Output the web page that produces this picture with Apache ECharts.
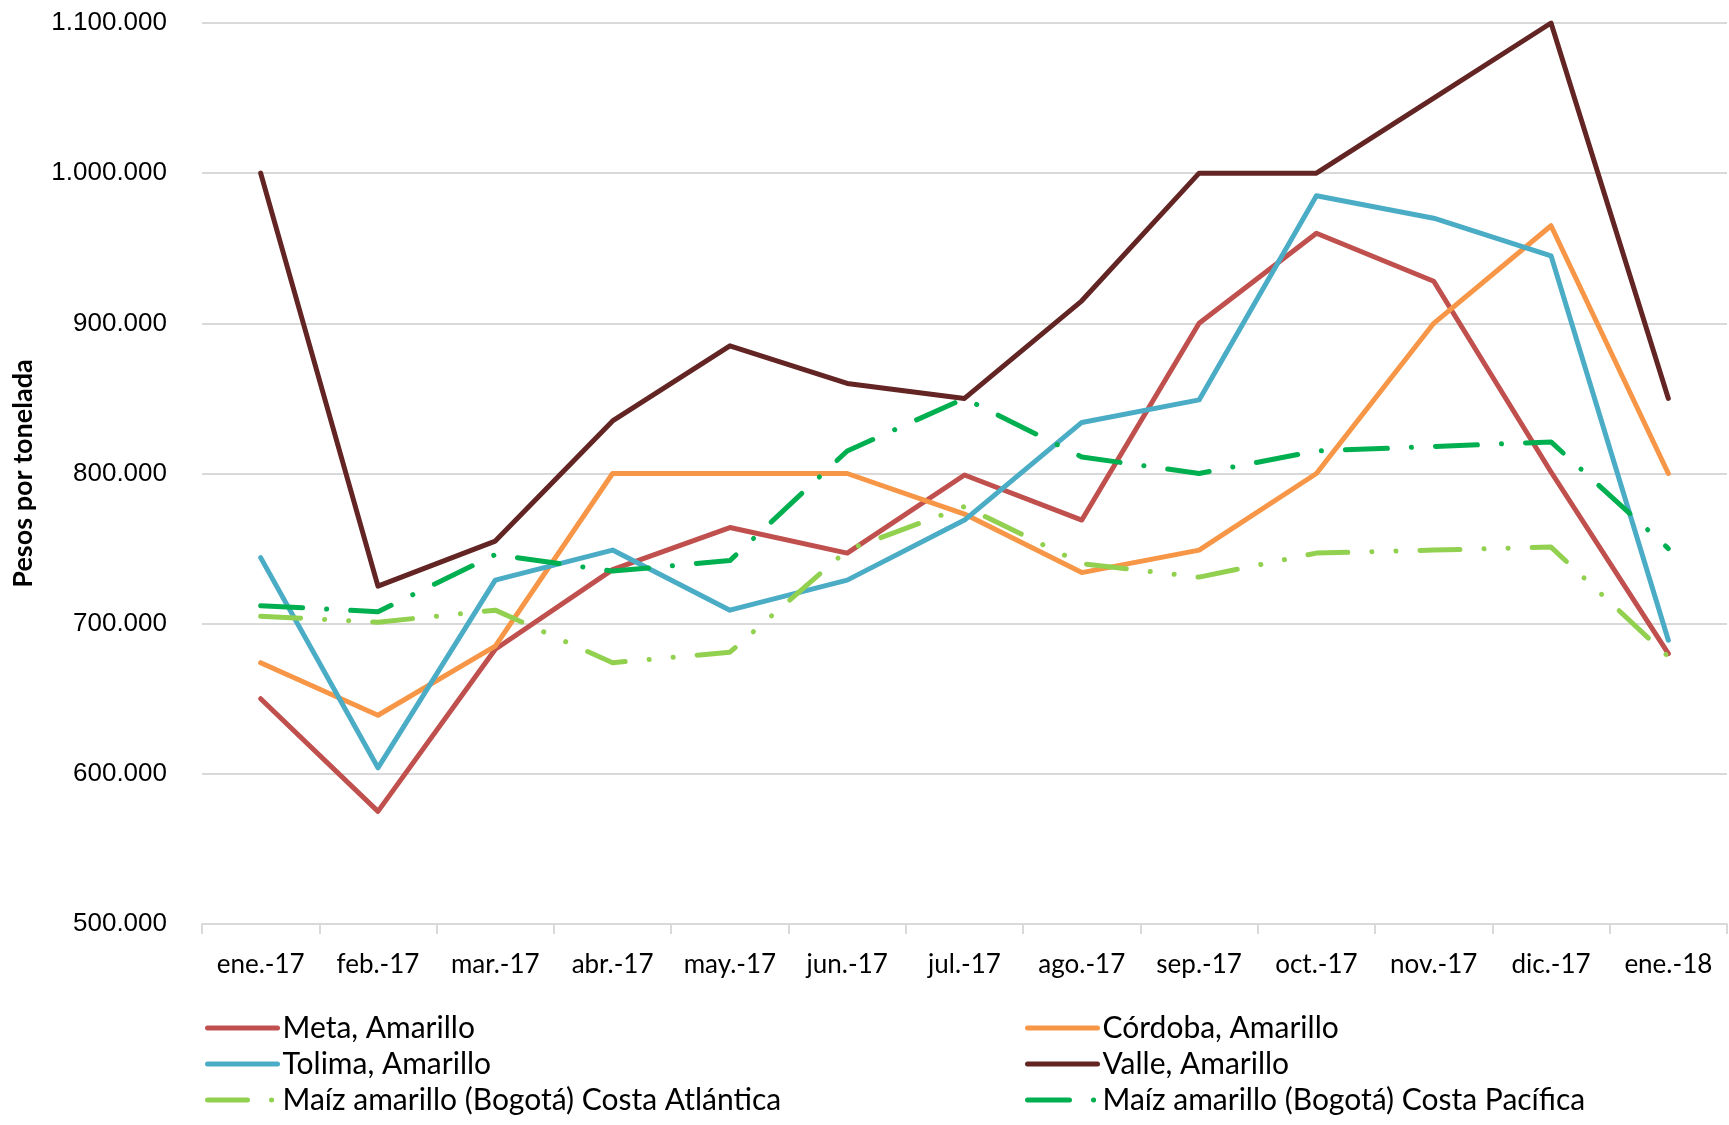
<!DOCTYPE html>
<html>
<head>
<meta charset="utf-8">
<title>Precio maíz amarillo</title>
<script src="https://cdn.jsdelivr.net/npm/echarts@6/dist/echarts.min.js"></script>
<style>
  html, body { margin: 0; padding: 0; background: #fff; }
  #lineChart { width: 1729px; height: 1125px; }
</style>
</head>
<body>
<div id="lineChart"></div>
<script>
// meses
const months = ['ene.-17', 'feb.-17', 'mar.-17', 'abr.-17', 'may.-17', 'jun.-17',
  'jul.-17', 'ago.-17', 'sep.-17', 'oct.-17', 'nov.-17', 'dic.-17', 'ene.-18'];

// pesos por tonelada
const meta = [650000, 575000, 683000, 736000, 764000, 747000, 799000, 769000, 900000, 960000, 928000, 801000, 680000];
const cordoba = [674000, 639000, 685000, 800000, 800000, 800000, 773000, 734000, 749000, 800000, 900000, 965000, 800000];
const tolima = [744000, 604000, 729000, 749000, 709000, 729000, 769000, 834000, 849000, 985000, 970000, 945000, 689000];
const valle = [1000000, 725000, 755000, 835000, 885000, 860000, 850000, 915000, 1000000, 1000000, 1050000, 1100000, 850000];
const costaAtlantica = [705000, 701000, 709000, 674000, 681000, 749000, 778000, 740000, 731000, 747000, 749000, 751000, 678000];
const costaPacifica = [712000, 708000, 746000, 735000, 742000, 815000, 850000, 811000, 800000, 815000, 818000, 821000, 750000];

const yTicks = { min: 500000, max: 1100000, step: 100000 };

let chartContainer = document.getElementById('lineChart');
let myChart = echarts.init(chartContainer);

let fmtMiles = function (v) {
  return String(v).replace(/\B(?=(\d{3})+(?!\d))/g, '.');
};

let mkLine = function (name, data, color, dash) {
  return {
    name: name,
    type: 'line',
    data: data,
    symbol: 'none',
    animation: false,
    lineStyle: {
      color: color,
      width: 5,
      type: dash || 'solid',
      cap: 'round',
      join: 'round'
    },
    itemStyle: { color: color }
  };
};

let legendBase = {
  orient: 'vertical',
  top: 1010,
  padding: 0,
  itemGap: 0,
  itemWidth: 70,
  itemHeight: 14,
  itemStyle: { opacity: 0 },   // solo la linea, sin circulo
  lineStyle: { width: 5 },
  textStyle: {
    fontFamily: 'Lato',
    fontSize: 30,
    color: '#000',
    lineHeight: 36
  }
};

let option = {
  backgroundColor: '#fff',
  grid: {
    left: 202,
    right: 2,
    top: 23,
    bottom: 201
  },
  legend: [
    Object.assign({}, legendBase, {
      left: 205,
      data: ['Meta, Amarillo', 'Tolima, Amarillo', 'Maíz amarillo (Bogotá) Costa Atlántica']
    }),
    Object.assign({}, legendBase, {
      left: 1025,
      data: ['Córdoba, Amarillo', 'Valle, Amarillo', 'Maíz amarillo (Bogotá) Costa Pacífica']
    })
  ],
  xAxis: {
    type: 'category',
    data: months,
    boundaryGap: true,
    axisLine: { lineStyle: { color: '#D9D9D9', width: 2 } },
    axisTick: { show: true, interval: 0, length: 10, lineStyle: { color: '#D9D9D9', width: 2 } },
    axisLabel: {
      interval: 0,
      margin: 28,
      fontFamily: 'Lato',
      fontSize: 26,
      color: '#000'
    }
  },
  yAxis: {
    type: 'value',
    min: yTicks.min,
    max: yTicks.max,
    interval: yTicks.step,
    name: 'Pesos por tonelada',
    nameLocation: 'middle',
    nameRotate: 90,
    nameGap: 165,
    nameTextStyle: {
      fontFamily: 'Lato',
      fontWeight: 'bold',
      fontSize: 27,
      color: '#000'
    },
    axisLine: { show: false },
    axisTick: { show: false },
    splitLine: { lineStyle: { color: '#D9D9D9', width: 2 } },
    axisLabel: {
      margin: 35,
      fontFamily: 'Liberation Sans',
      fontSize: 26,
      color: '#000',
      formatter: fmtMiles
    }
  },
  series: [
    mkLine('Meta, Amarillo', meta, '#C0504D'),
    mkLine('Córdoba, Amarillo', cordoba, '#F79646'),
    mkLine('Tolima, Amarillo', tolima, '#4BACC6'),
    mkLine('Valle, Amarillo', valle, '#632523'),
    mkLine('Maíz amarillo (Bogotá) Costa Atlántica', costaAtlantica, '#92D050', [40, 24, 0.1, 24, 0.1, 24]),
    mkLine('Maíz amarillo (Bogotá) Costa Pacífica', costaPacifica, '#00B050', [42, 24, 0.1, 24])
  ]
};

myChart.setOption(option);
</script>
</body>
</html>
